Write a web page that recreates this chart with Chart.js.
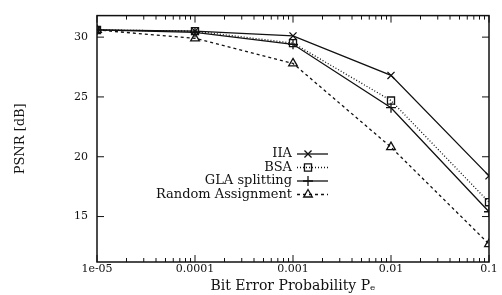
<!DOCTYPE html>
<html>
<head>
<meta charset="utf-8">
<script src="https://cdn.jsdelivr.net/npm/chart.js@4/dist/chart.umd.min.js"></script>
<style>
  html, body { margin: 0; padding: 0; background: #fff; }
  #wrap { width: 502px; height: 295px; }
</style>
</head>
<body>
<div id="wrap"><canvas id="c" width="502" height="295"></canvas></div>
<script>
// ---- data ----
const berValues = [1e-5, 1e-4, 1e-3, 1e-2, 1e-1];
const iiaPsnr   = [30.6, 30.5, 30.1, 26.8, 18.4];
const bsaPsnr   = [30.6, 30.5, 29.5, 24.7, 16.2];
const glaPsnr   = [30.6, 30.4, 29.4, 24.1, 15.4];
const randPsnr  = [30.6, 29.9, 27.8, 20.8, 12.7];
const seriesLabels = ['IIA', 'BSA', 'GLA splitting', 'Random Assignment'];
const xTickValues = [1e-5, 1e-4, 1e-3, 1e-2, 1e-1];
const xTickLabels = ['1e-05', '0.0001', '0.001', '0.01', '0.1'];
const yTickValues = [15, 20, 25, 30];

const FONT = 'DejaVu Serif';
const INK = '#111';

function pts(ys) { return ys.map((y, i) => ({ x: berValues[i], y })); }

const styles = [
  { pointStyle: 'crossRot', dash: [] },
  { pointStyle: 'rect', dash: [1, 2] },
  { pointStyle: 'cross', dash: [] },
  { pointStyle: 'triangle', dash: [3, 3] }
];
const allSeries = [iiaPsnr, bsaPsnr, glaPsnr, randPsnr];

const datasets = allSeries.map((s, i) => ({
  label: seriesLabels[i],
  data: pts(s),
  borderColor: INK,
  backgroundColor: 'rgba(0,0,0,0)',
  borderWidth: 1.3,
  borderDash: styles[i].dash,
  pointStyle: styles[i].pointStyle,
  pointRadius: 5,
  pointBorderWidth: 1.3,
  pointBorderColor: INK,
  pointBackgroundColor: 'rgba(0,0,0,0)',
  tension: 0
}));

// inward ticks, frame, and gnuplot-style legend
const framePlugin = {
  id: 'frame',
  afterDatasetsDraw(chart) {
    const { ctx, chartArea: a, scales } = chart;
    const xs = scales.x, ys = scales.y;
    ctx.save();
    ctx.strokeStyle = INK;
    ctx.lineWidth = 1.5;
    ctx.strokeRect(a.left, a.top, a.right - a.left, a.bottom - a.top);
    ctx.lineWidth = 1;
    ctx.beginPath();
    for (let d = 0; d < xTickValues.length; d++) {
      const base = xTickValues[d];
      for (let m = 1; m <= 9; m++) {
        const v = base * m;
        if (v > xs.max * 1.0001) break;
        const px = xs.getPixelForValue(v);
        const len = m === 1 ? 7 : 4;
        ctx.moveTo(px, a.bottom); ctx.lineTo(px, a.bottom - len);
        ctx.moveTo(px, a.top); ctx.lineTo(px, a.top + len);
      }
    }
    yTickValues.forEach(v => {
      const py = ys.getPixelForValue(v);
      ctx.moveTo(a.left, py); ctx.lineTo(a.left + 7, py);
      ctx.moveTo(a.right, py); ctx.lineTo(a.right - 7, py);
    });
    ctx.stroke();

    // legend (gnuplot style: right-aligned text, then line sample)
    const textRight = 292, s0 = 297, s1 = 328, row0 = 154, rowH = 13.5;
    ctx.font = '13px "' + FONT + '"';
    ctx.textAlign = 'right';
    ctx.textBaseline = 'middle';
    chart.data.datasets.forEach((ds, i) => {
      const y = row0 + i * rowH;
      ctx.fillStyle = INK;
      ctx.fillText(ds.label, textRight, y);
      ctx.save();
      ctx.strokeStyle = INK;
      ctx.lineWidth = ds.borderWidth;
      ctx.setLineDash(ds.borderDash);
      ctx.beginPath(); ctx.moveTo(s0, y); ctx.lineTo(s1, y); ctx.stroke();
      ctx.restore();
      ctx.save();
      ctx.strokeStyle = INK;
      ctx.fillStyle = 'rgba(0,0,0,0)';
      ctx.lineWidth = ds.pointBorderWidth;
      Chart.helpers.drawPoint(ctx, { pointStyle: ds.pointStyle, radius: ds.pointRadius, rotation: 0, borderWidth: ds.pointBorderWidth }, 308, y);
      ctx.restore();
    });
    ctx.restore();
  }
};

new Chart(document.getElementById('c'), {
  type: 'line',
  data: { datasets },
  options: {
    responsive: false,
    animation: false,
    devicePixelRatio: 1,
    layout: { padding: { left: 13, right: 13, top: 12, bottom: 0 } },
    plugins: { legend: { display: false }, tooltip: { enabled: false } },
    scales: {
      x: {
        type: 'logarithmic',
        min: 1e-5, max: 1e-1,
        afterBuildTicks(scale) { scale.ticks = xTickValues.map(v => ({ value: v })); },
        afterFit(scale) { scale.height = 33; },
        ticks: {
          autoSkip: false, maxRotation: 0, padding: 1,
          font: { family: FONT, size: 11 }, color: INK,
          callback(v) { const i = xTickValues.findIndex(t => Math.abs(t - v) / t < 1e-6); return i >= 0 ? xTickLabels[i] : ''; }
        },
        grid: { display: false, drawTicks: false },
        border: { display: false },
        title: { display: true, text: 'Bit Error Probability Pₑ', font: { family: FONT, size: 14 }, color: INK, padding: { top: -4, bottom: 0 } }
      },
      y: {
        min: 11.2, max: 31.8,
        afterBuildTicks(scale) { scale.ticks = yTickValues.map(v => ({ value: v })); },
        afterFit(scale) { scale.width = 84; },
        ticks: { padding: 9, font: { family: FONT, size: 11 }, color: INK },
        grid: { display: false, drawTicks: false },
        border: { display: false },
        title: { display: true, text: 'PSNR [dB]', font: { family: FONT, size: 13 }, color: INK, padding: 0 }
      }
    }
  },
  plugins: [framePlugin]
});
</script>
</body>
</html>
